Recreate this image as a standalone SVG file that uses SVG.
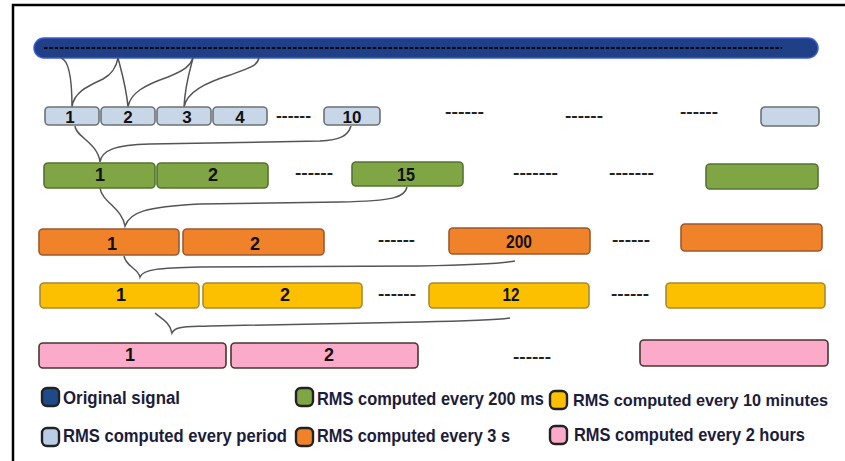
<svg xmlns="http://www.w3.org/2000/svg" width="845" height="461" viewBox="0 0 845 461">
<style>
.frame{stroke:#000;stroke-width:2.5;fill:none}
.sig{fill:#1f3f86;stroke:#3d5bd0;stroke-width:1.5}
.sigdash{stroke:#05050f;stroke-width:2.2;stroke-dasharray:3.5 1.8}
.lb{fill:#c8d7e8;stroke:#6d7176;stroke-width:1.6}
.gr{fill:#7fa545;stroke:#55742f;stroke-width:1.6}
.or{fill:#f0832a;stroke:#9a5a32;stroke-width:1.6}
.ye{fill:#fdc000;stroke:#a58a35;stroke-width:1.6}
.pk{fill:#fbaac9;stroke:#4a3630;stroke-width:1.6}
.num{font-family:"Liberation Sans",Arial,sans-serif;font-weight:bold;font-size:18px;fill:#111;text-anchor:middle}
.num1{font-size:17px}
.dots{font-family:"Liberation Sans",Arial,sans-serif;font-weight:bold;font-size:16px;fill:#222}
.br{fill:none;stroke:#555;stroke-width:1.5}
.sw{stroke:#222;stroke-width:2.4}
.leg{font-family:"Liberation Sans",Arial,sans-serif;font-weight:bold;font-size:18px;fill:#1c1c3c}
.leg.sm{font-size:16.4px}
</style>
<rect width="845" height="461" fill="#fff"/>
<path class="frame" d="M13,461 V5 H845"/>

<g id="signal">
<rect class="sig" x="34" y="38" width="784" height="20" rx="10"/>
<line class="sigdash" x1="44" y1="48" x2="782" y2="48"/>
</g>

<g id="connectors">
<path class="br" d="M61,58 C68,60 72,75 72,107 C74,92 88,86 103,79 C112,74 116,68 118,58"/>
<path class="br" d="M118,58 C121,70 126,85 128,107 C130,93 145,85 168,77 C185,70 190,66 193,58"/>
<path class="br" d="M193,58 C190,70 185,85 184,107 C187,92 205,83 230,75 C250,68 257,66 259,58"/>
<path class="br" d="M75,126 C75,136 98,143 100,162 C102,150 115,145 150,144 L320,141 C340,140 348,136 351,126"/>
<path class="br" d="M100,188 C102,202 122,208 125,226 C130,212 145,207 200,204 L340,202 C395,201 405,197 407,187"/>
<path class="br" d="M124,256 C126,267 138,268 140,277 C143,269 160,268 200,267 L420,266 C480,265 505,263 515,261"/>
<path class="br" d="M155,313 C160,318 170,322 172,333 C175,326 185,327 210,326 L420,322 C470,321 495,320 510,318"/>
</g>

<g id="row-period">
<g id="p1"><rect class="lb" x="45" y="107" width="54" height="18" rx="4"/><text class="num num1" x="70" y="123">1</text></g>
<g id="p2"><rect class="lb" x="101" y="107" width="54" height="18" rx="4"/><text class="num num1" x="128" y="123">2</text></g>
<g id="p3"><rect class="lb" x="157" y="107" width="54" height="18" rx="4"/><text class="num num1" x="187" y="123">3</text></g>
<g id="p4"><rect class="lb" x="213" y="107" width="54" height="18" rx="4"/><text class="num num1" x="240" y="123">4</text></g>
<text class="dots" x="276" y="121" textLength="35" lengthAdjust="spacingAndGlyphs">------</text>
<g id="p10"><rect class="lb" x="324" y="107" width="56" height="18" rx="4"/><text class="num num1" x="352" y="123">10</text></g>
<text class="dots" x="445" y="117" textLength="39" lengthAdjust="spacingAndGlyphs">------</text>
<text class="dots" x="565" y="121" textLength="38" lengthAdjust="spacingAndGlyphs">------</text>
<text class="dots" x="680" y="117" textLength="38" lengthAdjust="spacingAndGlyphs">------</text>
<g id="pn"><rect class="lb" x="761" y="107" width="58" height="19" rx="4"/></g>
</g>

<g id="row-200ms">
<g id="g1"><rect class="gr" x="44" y="163" width="111" height="25" rx="4"/><text class="num" x="100" y="181">1</text></g>
<g id="g2"><rect class="gr" x="157" y="163" width="111" height="25" rx="4"/><text class="num" x="213" y="181">2</text></g>
<text class="dots" x="295" y="178" textLength="38" lengthAdjust="spacingAndGlyphs">------</text>
<g id="g15"><rect class="gr" x="352" y="162" width="111" height="24" rx="4"/><text class="num" x="406" y="181" textLength="18" lengthAdjust="spacingAndGlyphs">15</text></g>
<text class="dots" x="513" y="178" textLength="45" lengthAdjust="spacingAndGlyphs">-------</text>
<text class="dots" x="609" y="178" textLength="45" lengthAdjust="spacingAndGlyphs">-------</text>
<g id="gn"><rect class="gr" x="706" y="164" width="112" height="25" rx="4"/></g>
</g>

<g id="row-3s">
<g id="o1"><rect class="or" x="39" y="229" width="140" height="26" rx="4"/><text class="num" x="112" y="250">1</text></g>
<g id="o2"><rect class="or" x="183" y="229" width="141" height="26" rx="4"/><text class="num" x="255" y="250">2</text></g>
<text class="dots" x="378" y="245" textLength="37" lengthAdjust="spacingAndGlyphs">------</text>
<g id="o200"><rect class="or" x="449" y="228" width="141" height="26" rx="4"/><text class="num" x="519" y="248" textLength="26" lengthAdjust="spacingAndGlyphs">200</text></g>
<text class="dots" x="612" y="245" textLength="38" lengthAdjust="spacingAndGlyphs">------</text>
<g id="on"><rect class="or" x="681" y="224" width="141" height="27" rx="4"/></g>
</g>

<g id="row-10min">
<g id="y1"><rect class="ye" x="40" y="283" width="159" height="25" rx="4"/><text class="num" x="121" y="301">1</text></g>
<g id="y2"><rect class="ye" x="203" y="283" width="159" height="25" rx="4"/><text class="num" x="285" y="301">2</text></g>
<text class="dots" x="378" y="299" textLength="38" lengthAdjust="spacingAndGlyphs">------</text>
<g id="y12"><rect class="ye" x="429" y="283" width="160" height="25" rx="4"/><text class="num" x="511" y="301" textLength="17" lengthAdjust="spacingAndGlyphs">12</text></g>
<text class="dots" x="611" y="299" textLength="38" lengthAdjust="spacingAndGlyphs">------</text>
<g id="yn"><rect class="ye" x="666" y="283" width="159" height="25" rx="4"/></g>
</g>

<g id="row-2h">
<g id="k1"><rect class="pk" x="39" y="343" width="187" height="25" rx="4"/><text class="num" x="130" y="361">1</text></g>
<g id="k2"><rect class="pk" x="231" y="343" width="187" height="25" rx="4"/><text class="num" x="329" y="361">2</text></g>
<text class="dots" x="513" y="362" textLength="38" lengthAdjust="spacingAndGlyphs">------</text>
<g id="kn"><rect class="pk" x="640" y="340" width="188" height="26" rx="4"/></g>
</g>

<g id="legend">
<g id="leg-signal"><rect class="sw" x="42" y="388" width="17" height="18" rx="5" fill="#1f4a8a"/><text class="leg" x="63" y="404" textLength="117" lengthAdjust="spacingAndGlyphs">Original signal</text></g>
<g id="leg-200ms"><rect class="sw" x="296" y="388" width="17" height="18" rx="5" fill="#7fa545"/><text class="leg" x="317" y="405" textLength="227" lengthAdjust="spacingAndGlyphs">RMS computed every 200 ms</text></g>
<g id="leg-10min"><rect class="sw" x="550" y="391" width="17" height="18" rx="5" fill="#fdc000"/><text class="leg sm" x="573" y="406" textLength="255" lengthAdjust="spacingAndGlyphs">RMS computed every 10 minutes</text></g>
<g id="leg-period"><rect class="sw" x="42" y="428" width="17" height="18" rx="5" fill="#b9cde6"/><text class="leg" x="63" y="442" textLength="224" lengthAdjust="spacingAndGlyphs">RMS computed every period</text></g>
<g id="leg-3s"><rect class="sw" x="296" y="428" width="17" height="18" rx="5" fill="#f0832a"/><text class="leg" x="317" y="442" textLength="193" lengthAdjust="spacingAndGlyphs">RMS computed every 3 s</text></g>
<g id="leg-2h"><rect class="sw" x="550" y="426" width="17" height="18" rx="5" fill="#fbaac9"/><text class="leg" x="574" y="441" textLength="231" lengthAdjust="spacingAndGlyphs">RMS computed every 2 hours</text></g>
</g>
</svg>
